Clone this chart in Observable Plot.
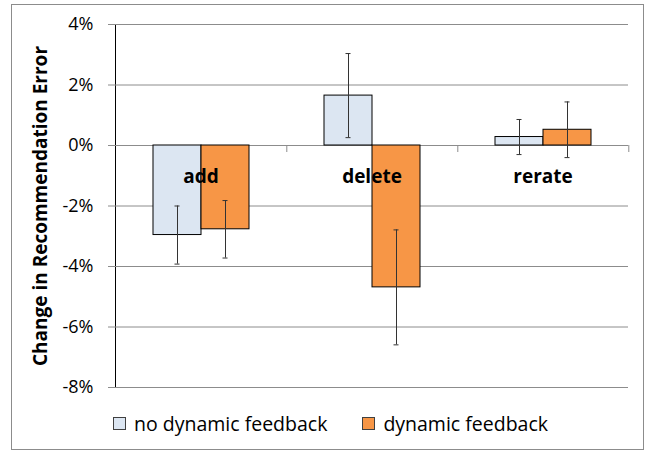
<!DOCTYPE html>
<html><head><meta charset="utf-8">
<script src="https://cdn.jsdelivr.net/npm/d3@7"></script>
<script src="https://cdn.jsdelivr.net/npm/@observablehq/plot@0.6"></script>
<style>
body{margin:0;background:#fff;font-family:"Open Sans",sans-serif;}
#wrap{position:relative;width:650px;height:452px;overflow:hidden;}
#border{position:absolute;left:11px;top:4px;width:633px;height:446px;border:1px solid #8c8c8c;box-sizing:border-box;}
#chart{position:absolute;left:0;top:0;}
#legend{position:absolute;left:113px;top:410px;display:flex;align-items:center;font-size:19.5px;color:#000;font-family:"Open Sans",sans-serif;}
.item{display:flex;align-items:center;margin-right:35px;}
.sw{width:11px;height:11px;border:1px solid #404040;margin-right:8px;}
#chart svg [aria-label^="y-axis"]{color:#8c8c8c;}
#chart svg [aria-label^="y-axis"] text{fill:#000;}
#chart svg [aria-label="y-axis label"] text, #chart svg [aria-label="y-axis label"]{font-weight:bold;font-size:19px;}
</style></head>
<body>
<div id="wrap">
  <div id="border"></div>
  <div id="chart"></div>
  <div id="legend"></div>
</div>
<script>
const categories = ["add", "delete", "rerate"];
const series = ["no dynamic feedback", "dynamic feedback"];
const noDynamic = [-2.96, 1.65, 0.28];
const dynamic = [-2.77, -4.69, 0.52];
const noDynamicErr = [0.96, 1.39, 0.58];
const dynamicErr = [0.95, 1.90, 0.92];
const colors = ["#DCE6F2", "#F79646"];
const yTicks = [4, 2, 0, -2, -4, -6, -8];
const yTitle = "Change in Recommendation Error";

const rows = categories.flatMap((c, i) => [
  {category: c, series: series[0], value: noDynamic[i], err: noDynamicErr[i]},
  {category: c, series: series[1], value: dynamic[i], err: dynamicErr[i]}
]);

const chart = Plot.plot({
  width: 650, height: 400,
  marginLeft: 114, marginRight: 21, marginTop: 24, marginBottom: 13,
  style: {fontFamily: '"Open Sans", sans-serif', fontSize: "18px", color: "#000", background: "transparent", overflow: "visible"},
  fx: {domain: categories, padding: 0, axis: null},
  x: {domain: series, paddingInner: 0, paddingOuter: 0.752, axis: null},
  y: {domain: [-8, 4], ticks: yTicks, tickFormat: d => `${d}%`, tickSize: 7, tickPadding: 15,
      label: yTitle, labelArrow: "none", labelAnchor: "center", labelOffset: 82, line: true},
  color: {domain: series, range: colors},
  marks: [
    Plot.ruleY(yTicks, {stroke: "#8c8c8c"}),
    Plot.barY(rows, {fx: "category", x: "series", y: "value", fill: "series", stroke: "#000", strokeWidth: 1}),
    Plot.ruleX(categories, {fx: d => d, x: () => series[1], y1: () => 0, y2: () => 0, dx: 61.3, insetBottom: -7, stroke: "#8c8c8c"}),
    Plot.text(categories, {fx: d => d, y: () => 0, text: d => d, dy: 31, fontWeight: "bold", fontSize: 19}),
    Plot.ruleX(rows, {fx: "category", x: "series", y1: d => d.value - d.err, y2: d => d.value + d.err, stroke: "#333"}),
    Plot.tickY(rows, {fx: "category", x: "series", y: d => d.value - d.err, insetLeft: 21.5, insetRight: 21.5, stroke: "#333"}),
    Plot.tickY(rows, {fx: "category", x: "series", y: d => d.value + d.err, insetLeft: 21.5, insetRight: 21.5, stroke: "#333"})
  ]
});
document.getElementById("chart").appendChild(chart);

const legend = document.getElementById("legend");
series.forEach((s, i) => {
  const item = document.createElement("div");
  item.className = "item";
  const sw = document.createElement("div");
  sw.className = "sw";
  sw.style.background = colors[i];
  const t = document.createElement("span");
  t.textContent = s;
  item.appendChild(sw);
  item.appendChild(t);
  legend.appendChild(item);
});
</script>
</body></html>
